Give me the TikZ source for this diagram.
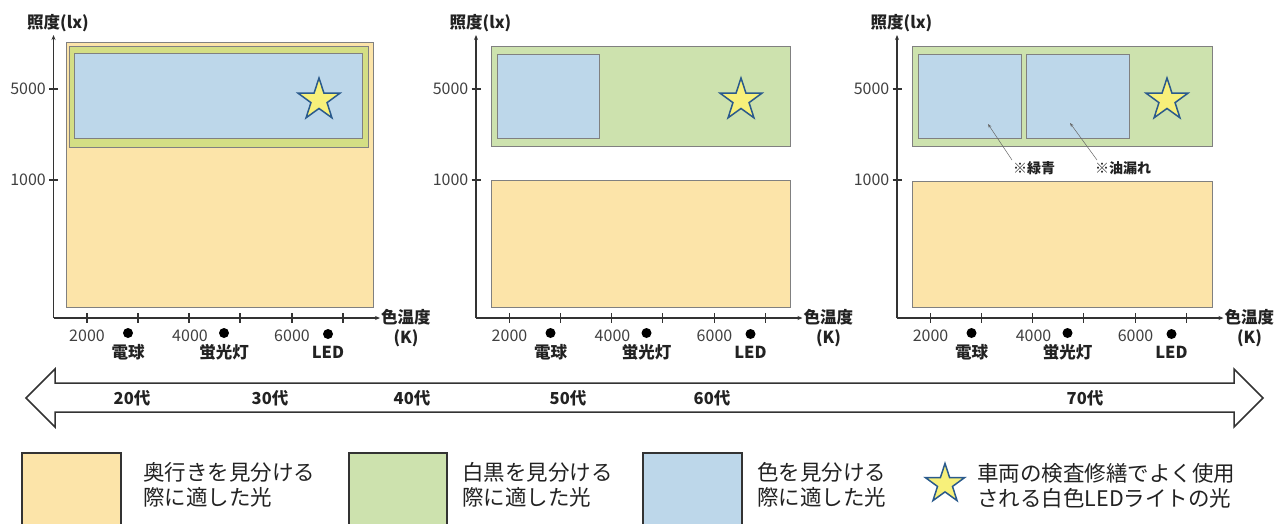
\documentclass[tikz,border=0pt]{standalone}
\usepackage{fontspec}
\setmainfont{Noto Sans CJK JP}
\usetikzlibrary{shapes.geometric,arrows.meta}
\definecolor{orfill}{HTML}{FCE4A9}
\definecolor{grfill}{HTML}{CDE2AE}
\definecolor{limefill}{HTML}{D4DE84}
\definecolor{blfill}{HTML}{BDD7EA}
\definecolor{rectline}{HTML}{808080}
\definecolor{starf}{HTML}{F7F07A}
\definecolor{starb}{HTML}{2A5A8C}
\definecolor{ink}{HTML}{222222}
\definecolor{axisc}{HTML}{333333}
\definecolor{numc}{HTML}{404040}
\begin{document}
\begin{tikzpicture}[x=1pt,y=-1pt,
  axisline/.style={draw=axisc,line width=1.1pt},
  axisarrow/.style={axisline,-{Stealth[length=5pt,width=4pt]}},
  area/.style={draw=rectline,line width=0.9pt},
  numlab/.style={text=numc,font=\fontsize{16}{18}\selectfont,inner sep=0pt},
  boldlab/.style={text=ink,font=\fontsize{16.5}{19}\selectfont\bfseries,inner sep=0pt},
  agelab/.style={text=ink,font=\fontsize{16.5}{19}\selectfont\bfseries,inner sep=0pt},
  notelab/.style={text=ink,font=\fontsize{14}{16}\selectfont\bfseries,inner sep=0pt},
  dotn/.style={circle,fill=black,inner sep=0pt,minimum size=10pt},
  starn/.style={star,star points=5,star point ratio=2.6,minimum size=44pt,inner sep=0pt,draw=starb,fill=starf,line width=1.5pt},
  legbox/.style={draw=axisc,line width=1.4pt},
  legtext/.style={text=ink,font=\fontsize{21.5}{25}\selectfont,align=left,inner sep=0pt,anchor=west},
  notearrow/.style={draw=gray!80!black,line width=0.5pt,-{Stealth[length=4pt,width=3pt]}}
]
\useasboundingbox (0,0) rectangle (1282,523);
\clip (0,0) rectangle (1282,523);

% ---------- panel areas ----------
% panel 1
\draw[area,fill=orfill] (66,42) rectangle (373,307);
\draw[area,fill=limefill] (69,46) rectangle (368,147);
\draw[area,fill=blfill] (74,53) rectangle (362,138);
\node[starn] (star1) at (319,100) {};
% panel 2
\draw[area,fill=grfill] (491,46) rectangle (790,146);
\draw[area,fill=blfill] (497,54) rectangle (599,138);
\draw[area,fill=orfill] (491,180) rectangle (790,307);
\node[starn] (star2) at (741,100) {};
% panel 3
\draw[area,fill=grfill] (912,46) rectangle (1212,146);
\draw[area,fill=blfill] (918,54) rectangle (1021,138);
\draw[area,fill=blfill] (1026,54) rectangle (1129,138);
\draw[area,fill=orfill] (912,181) rectangle (1212,307);
\node[starn] (star3) at (1167,100) {};

% ---------- axes ----------
\foreach \s/\n in {0/a,422.5/b,843.5/c}{
\begin{scope}[xshift=\s pt]
  \draw[axisarrow] (53.5,318) -- (380,318);
  \draw[axisarrow] (53.5,318) -- (53.5,35);
  \foreach \x in {87,138,189,240,292,343}{\draw[axisline] (\x,313) -- (\x,323);}
  \draw[axisline] (49,89) -- (58,89);
  \draw[axisline] (49,180) -- (58,180);
  \node[numlab,anchor=east] (y5\n) at (46,89) {5000};
  \node[numlab,anchor=east] (y1\n) at (46,180) {1000};
  \node[boldlab] (yt\n) at (58,23) {照度(lx)};
  \node[numlab] (x2\n) at (87,336) {2000};
  \node[numlab] (x4\n) at (190,336) {4000};
  \node[numlab] (x6\n) at (292,336) {6000};
  \node[dotn] (d1\n) at (128,333) {};
  \node[dotn] (d2\n) at (224,333) {};
  \node[dotn] (d3\n) at (328,334) {};
  \node[boldlab] (l1\n) at (128,352) {電球};
  \node[boldlab] (l2\n) at (224,352) {蛍光灯};
  \node[boldlab] (l3\n) at (328,352) {LED};
  \node[boldlab,anchor=west] (xt\n) at (381,317) {色温度};
  \node[boldlab] (xk\n) at (406,338) {(K)};
\end{scope}
}

% ---------- notes panel 3 ----------
\node[notelab] (n1) at (1034,168) {※緑青};
\node[notelab] (n2) at (1123,168) {※油漏れ};
\coordinate (n1s) at (1012,160);
\coordinate (n1e) at (988,124);
\coordinate (n2s) at (1097,160);
\coordinate (n2e) at (1070,123);
\draw[notearrow] (n1s) -- (n1e);
\draw[notearrow] (n2s) -- (n2e);

% ---------- age arrow ----------
\draw[axisc,line width=1.5pt,fill=white,line join=miter]
  (26,398) -- (55,369) -- (55,383) -- (1234,383) -- (1234,369) -- (1263,398)
  -- (1234,427) -- (1234,412) -- (55,412) -- (55,427) -- cycle;
\node[agelab] (a20) at (132,398) {20代};
\node[agelab] (a30) at (270,398) {30代};
\node[agelab] (a40) at (412,398) {40代};
\node[agelab] (a50) at (568,398) {50代};
\node[agelab] (a60) at (712,398) {60代};
\node[agelab] (a70) at (1085,398) {70代};

% ---------- legend ----------
\draw[legbox,fill=orfill] (22,453) rectangle (121,540);
\draw[legbox,fill=grfill] (349,453) rectangle (447,540);
\draw[legbox,fill=blfill] (643,453) rectangle (742,540);
\node[legtext] (t1) at (143,485) {奥行きを見分ける\\際に適した光};
\node[legtext] (t2) at (462,485) {白黒を見分ける\\際に適した光};
\node[legtext] (t3) at (757,485) {色を見分ける\\際に適した光};
\node[starn,minimum size=41pt] (star4) at (945,484) {};
\node[legtext] (t4) at (977,486) {車両の検査修繕でよく使用\\される白色LEDライトの光};
\end{tikzpicture}
\end{document}
